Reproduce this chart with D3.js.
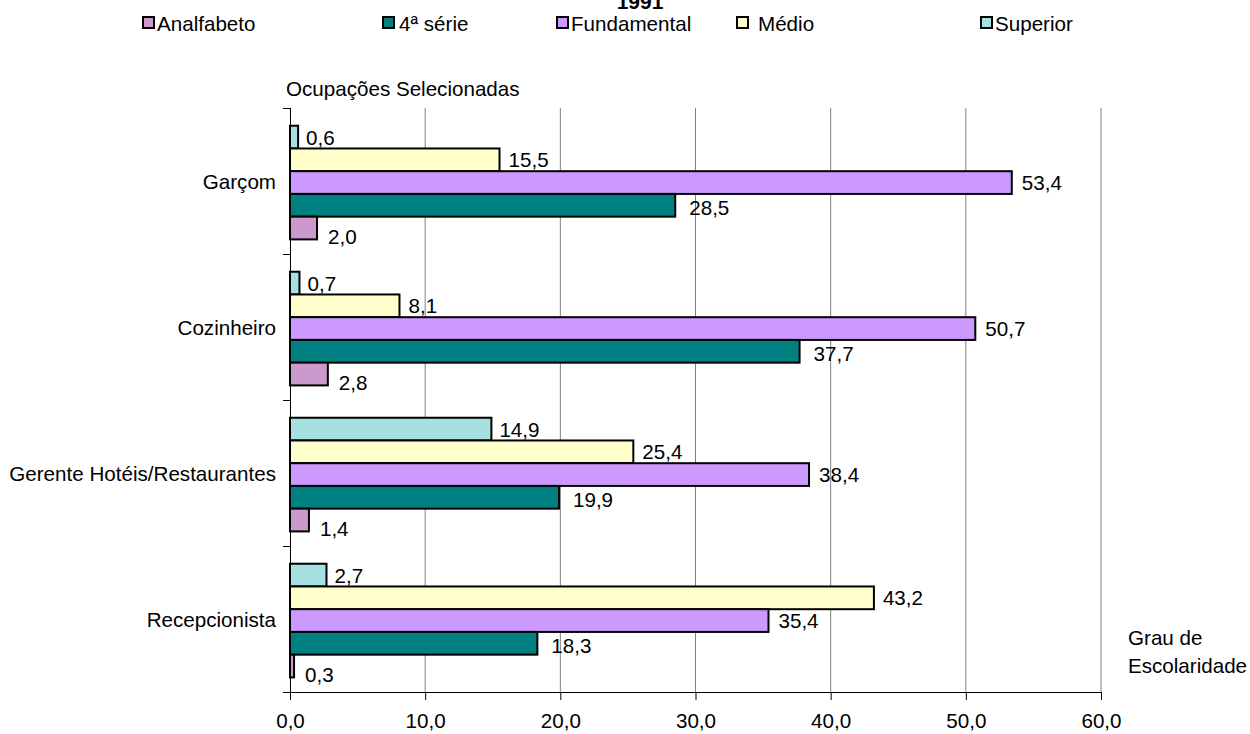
<!DOCTYPE html>
<html>
<head>
<meta charset="utf-8">
<script src="https://cdn.jsdelivr.net/npm/d3@7"></script>
<style>
  body { margin: 0; background: #fff; }
  svg text { font-family: "Liberation Sans", Arial, sans-serif; fill: #000; }
</style>
</head>
<body>
<svg id="chart" width="1250" height="734"></svg>
<script>
// Occupations (top to bottom)
const categories = ["Garçom", "Cozinheiro", "Gerente Hotéis/Restaurantes", "Recepcionista"];

// Share (%) by schooling level, one value per occupation
const superior    = [0.6, 0.7, 14.9, 2.7];
const medio       = [15.5, 8.1, 25.4, 43.2];
const fundamental = [53.4, 50.7, 38.4, 35.4];
const quartaSerie = [28.5, 37.7, 19.9, 18.3];
const analfabeto  = [2.0, 2.8, 1.4, 0.3];

// Series names in drawing order inside each group (top to bottom)
const seriesNames = ["Superior", "Médio", "Fundamental", "4ª série", "Analfabeto"];
const legendNames = ["Analfabeto", "4ª série", "Fundamental", "Médio", "Superior"];
const xTickValues = [0, 10, 20, 30, 40, 50, 60];

const seriesValues = {
  "Superior": superior,
  "Médio": medio,
  "Fundamental": fundamental,
  "4ª série": quartaSerie,
  "Analfabeto": analfabeto
};
const colors = {
  "Analfabeto": "#cc99cc",
  "4ª série": "#008080",
  "Fundamental": "#cc99ff",
  "Médio": "#ffffcc",
  "Superior": "#a6e0e0"
};
// label nudges so neighbouring labels do not collide
const labelShift = {
  "Superior":    { dx: 8,  dy: 0 },
  "Médio":       { dx: 9,  dy: 0 },
  "Fundamental": { dx: 10, dy: 0 },
  "4ª série":    { dx: 14, dy: 2 },
  "Analfabeto":  { dx: 11, dy: 8 }
};

const FS = "20.6px";
const svg = d3.select("#chart");
const plot = { left: 290, right: 1101, top: 108, bottom: 692 };
const fmt = v => d3.format(".1f")(v).replace(".", ",");

const x = d3.scaleLinear().domain([0, 60]).range([plot.left, plot.right]);
const y = d3.scaleBand().domain(categories).range([plot.top, plot.bottom]).padding(0);
const inner = d3.scaleBand().domain(seriesNames)
  .range([y.bandwidth() * 0.1215, y.bandwidth() * 0.9])
  .padding(0);

// Title
svg.append("text")
  .attr("x", 640).attr("y", 9)
  .attr("text-anchor", "middle")
  .style("font-size", "21px").style("font-weight", "bold")
  .text("1991");

// Legend
const legendX = { "Analfabeto": 143, "4ª série": 383, "Fundamental": 557, "Médio": 737, "Superior": 981 };
const legendTextGap = { "Analfabeto": 14, "4ª série": 16, "Fundamental": 14, "Médio": 21, "Superior": 14 };
const lg = svg.append("g").selectAll("g").data(legendNames).join("g")
  .attr("transform", d => `translate(${legendX[d]},23)`);
lg.append("rect")
  .attr("x", 0).attr("y", -6).attr("width", 11).attr("height", 11)
  .attr("fill", d => colors[d]).attr("stroke", "#000").attr("stroke-width", 2);
lg.append("text")
  .attr("x", d => legendTextGap[d]).attr("y", 0)
  .attr("dominant-baseline", "central")
  .style("font-size", FS)
  .text(d => d);

// Axis titles
svg.append("text")
  .attr("x", 286).attr("y", 88)
  .attr("dominant-baseline", "central")
  .style("font-size", FS)
  .text("Ocupações Selecionadas");
svg.append("text")
  .attr("x", 1128).attr("y", 637)
  .attr("dominant-baseline", "central")
  .style("font-size", FS)
  .text("Grau de");
svg.append("text")
  .attr("x", 1128).attr("y", 665)
  .attr("dominant-baseline", "central")
  .style("font-size", FS)
  .text("Escolaridade");

// Vertical gridlines
svg.append("g").selectAll("line").data(xTickValues.slice(1)).join("line")
  .attr("x1", d => x(d)).attr("x2", d => x(d))
  .attr("y1", plot.top).attr("y2", plot.bottom)
  .attr("stroke", "#808080").attr("stroke-width", 1);

// Bars
const groups = svg.append("g").selectAll("g").data(categories).join("g")
  .attr("transform", d => `translate(0,${y(d)})`);

groups.each(function(cat, ci) {
  const g = d3.select(this);
  const rows = seriesNames.map(s => ({ s, v: seriesValues[s][ci] }));
  g.selectAll("rect").data(rows).join("rect")
    .attr("x", x(0))
    .attr("y", d => inner(d.s))
    .attr("width", d => x(d.v) - x(0))
    .attr("height", inner.bandwidth())
    .attr("fill", d => colors[d.s])
    .attr("stroke", "#000").attr("stroke-width", 2);
  g.selectAll("text").data(rows).join("text")
    .attr("x", d => x(d.v) + labelShift[d.s].dx)
    .attr("y", d => inner(d.s) + inner.bandwidth() / 2 + labelShift[d.s].dy)
    .attr("dominant-baseline", "central")
    .style("font-size", FS)
    .text(d => fmt(d.v));
});

// X axis
const xAxis = svg.append("g")
  .attr("transform", `translate(0,${plot.bottom})`)
  .call(d3.axisBottom(x).tickValues(xTickValues).tickFormat(fmt).tickSize(8).tickSizeOuter(0).tickPadding(13));
xAxis.select(".domain").attr("d", `M${plot.left - 7},0.5H${plot.right}`).attr("stroke", "#000");
xAxis.selectAll(".tick line").attr("stroke", "#000");
xAxis.selectAll(".tick text").style("font-size", FS).attr("font-family", null);

// Y axis: category labels at band centres, ticks at band edges
const yAxis = svg.append("g").attr("transform", `translate(${plot.left},0)`);
yAxis.append("line")
  .attr("x1", 0.5).attr("x2", 0.5).attr("y1", plot.top).attr("y2", plot.bottom)
  .attr("stroke", "#000");
const edges = categories.map(c => y(c));
yAxis.selectAll(".edge").data(edges).join("line").attr("class", "edge")
  .attr("x1", -7).attr("x2", 0).attr("y1", d => d + 0.5).attr("y2", d => d + 0.5)
  .attr("stroke", "#000");
yAxis.selectAll(".cat").data(categories).join("text").attr("class", "cat")
  .attr("x", -14).attr("y", d => y(d) + y.bandwidth() / 2)
  .attr("text-anchor", "end").attr("dominant-baseline", "central")
  .style("font-size", FS)
  .text(d => d);
</script>
</body>
</html>
